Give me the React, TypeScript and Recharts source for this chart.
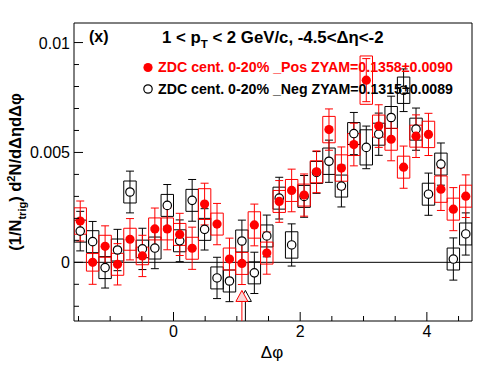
import React from "react";
import {
  ComposedChart,
  XAxis,
  YAxis,
  Scatter,
  ErrorBar,
  Line,
  ReferenceLine,
  ReferenceArea,
} from "recharts";

// bin centres in delta phi (32 bins from -pi/2 to 3pi/2)
const dphi = [
  -1.4726, -1.2763, -1.0799, -0.8836, -0.6872, -0.4909, -0.2945, -0.0982,
  0.0982, 0.2945, 0.4909, 0.6872, 0.8836, 1.0799, 1.2763, 1.4726,
  1.669, 1.8653, 2.0617, 2.258, 2.4544, 2.6507, 2.8471, 3.0434,
  3.2398, 3.4361, 3.6325, 3.8288, 4.0252, 4.2215, 4.4179, 4.6142,
];

// ZDC cent. 0-20% _Pos
const posVal = [
  0.00188, 0.0, 0.00073, -0.00009, 0.00105, 0.00029, 0.00152, 0.00152,
  0.00127, 0.00064, 0.00265, 0.00174, 0.00015, -0.00005, 0.0017, 0.00042,
  0.00277, 0.00327, 0.00306, 0.00412, 0.00604, 0.00429, 0.00536, 0.00829,
  0.0062, 0.0056, 0.00433, 0.00574, 0.00582, 0.00333, 0.00242, 0.00301,
];
const posStat = [
  0.00091, 0.001, 0.00093, 0.00094, 0.00094, 0.00094, 0.00095, 0.00095,
  0.00096, 0.00096, 0.00095, 0.00094, 0.00095, 0.00096, 0.00095, 0.00096,
  0.00095, 0.00097, 0.00096, 0.00095, 0.00094, 0.00096, 0.00097, 0.00098,
  0.00097, 0.00098, 0.00096, 0.00097, 0.00096, 0.00097, 0.00098, 0.00097,
];
const posSys = [
  0.0006, 0.0004, 0.0005, 0.0005, 0.0005, 0.0004, 0.0005, 0.0005,
  0.0005, 0.0005, 0.0007, 0.0005, 0.0005, 0.0005, 0.0006, 0.0005,
  0.0005, 0.0005, 0.0005, 0.0005, 0.0006, 0.0006, 0.0005, 0.0011,
  0.0005, 0.0005, 0.0005, 0.0005, 0.0006, 0.0006, 0.0005, 0.0005,
];

// ZDC cent. 0-20% _Neg
const negVal = [
  0.00142, 0.00094, -0.00024, 0.00056, 0.0032, 0.00061, 0.00065, 0.00259,
  0.00098, 0.00282, 0.0015, -0.00071, -0.00085, 0.00097, -0.00048, 0.0012,
  0.00292, 0.00079, 0.003, 0.00409, 0.0046, 0.00347, 0.00586, 0.00523,
  0.00583, 0.00659, 0.00783, 0.00606, 0.0031, 0.00447, 0.00015, 0.00129,
];
const negStat = [
  0.0009, 0.00092, 0.00093, 0.00094, 0.00095, 0.00094, 0.00094, 0.00095,
  0.00095, 0.00095, 0.00094, 0.00094, 0.00094, 0.00095, 0.00094, 0.00095,
  0.00095, 0.00096, 0.00095, 0.00095, 0.00096, 0.00095, 0.00096, 0.00097,
  0.00096, 0.00097, 0.00097, 0.00096, 0.00096, 0.00096, 0.00096, 0.00096,
];
const negSys = [
  0.0005, 0.0005, 0.0005, 0.0005, 0.0005, 0.0004, 0.0005, 0.0005,
  0.0005, 0.0005, 0.0005, 0.0005, 0.0005, 0.0005, 0.0005, 0.0005,
  0.0005, 0.0006, 0.0005, 0.0005, 0.0006, 0.0005, 0.0005, 0.0008,
  0.0005, 0.0005, 0.0006, 0.0005, 0.0005, 0.0005, 0.0005, 0.0005,
];

const binHalf = 0.0982;

const xDomain = [-1.5708, 4.7124];
const yDomain = [-0.00267, 0.01089];
const xTicks = [-1.5, -1, -0.5, 0, 0.5, 1, 1.5, 2, 2.5, 3, 3.5, 4, 4.5];
const xMajor = [0, 2, 4];
const yTicks = [
  -0.002, -0.001, 0, 0.001, 0.002, 0.003, 0.004, 0.005, 0.006, 0.007, 0.008,
  0.009, 0.01,
];
const yMajor = [0, 0.005, 0.01];
const yMajorText = ["0", "0.005", "0.01"];

// ZYAM minimum markers (red = Pos, black = Neg)
const zyamPhi = [1.0799, 1.135];
const arrowTip = -0.00128;
const arrowBase = -0.00178;

const FONT = "'Liberation Sans', Arial, Helvetica, sans-serif";

const posPoints = dphi.map((x, i) => ({ x, y: posVal[i], err: posStat[i] }));
const negPoints = dphi.map((x, i) => ({ x, y: negVal[i], err: negStat[i] }));

function boxOutline(vals: number[], sys: number[]) {
  const out: { x: number; y: number | null }[] = [];
  dphi.forEach((c, i) => {
    const lo = vals[i] - sys[i];
    const hi = vals[i] + sys[i];
    out.push({ x: c - binHalf, y: lo });
    out.push({ x: c - binHalf, y: hi });
    out.push({ x: c + binHalf, y: hi });
    out.push({ x: c + binHalf, y: lo });
    out.push({ x: c - binHalf, y: lo });
    out.push({ x: c, y: null });
  });
  return out;
}

const posBoxes = boxOutline(posVal, posSys);
const negBoxes = boxOutline(negVal, negSys);

const near = (a: number, b: number) => Math.abs(a - b) < 1e-9;

// ticks point inward from the frame, ROOT style
function XTick(props: any) {
  const { x, y, payload } = props;
  const major = xMajor.some((v) => near(v, payload.value));
  return (
    <g>
      <line x1={x} x2={x} y1={y} y2={y - (major ? 9 : 5)} stroke="#000" />
      {major && (
        <text x={x} y={y + 16} textAnchor="middle" fontSize={16} fontFamily={FONT} fill="#000">
          {payload.value}
        </text>
      )}
    </g>
  );
}

function YTick(props: any) {
  const { x, y, payload } = props;
  const idx = yMajor.findIndex((v) => near(v, payload.value));
  const major = idx >= 0;
  return (
    <g>
      <line x1={x} x2={x + (major ? 9 : 5)} y1={y} y2={y} stroke="#000" />
      {major && (
        <text x={x - 4} y={y + 6} textAnchor="end" fontSize={16} fontFamily={FONT} fill="#000">
          {yMajorText[idx]}
        </text>
      )}
    </g>
  );
}

const RedDot = (p: any) => <circle cx={p.cx} cy={p.cy} r={4.6} fill="#ff0000" />;
const OpenCircle = (p: any) => (
  <circle cx={p.cx} cy={p.cy} r={4.2} fill="#fff" stroke="#000" strokeWidth={1.2} />
);
const Triangle = (color: string, fill: string) => (p: any) => (
  <path
    d={`M${p.cx},${p.cy} L${p.cx - 6},${p.cy + 11} L${p.cx + 6},${p.cy + 11} Z`}
    fill={fill}
    stroke={color}
    strokeWidth={1}
  />
);

export default function App() {
  return (
    <div style={{ position: "absolute", left: 0, top: 0, width: 496, height: 374, background: "#fff" }}>
      <ComposedChart
        width={496}
        height={374}
        margin={{ top: 23, right: 24, bottom: 23, left: 4 }}
      >
        <XAxis
          type="number"
          dataKey="x"
          domain={xDomain}
          allowDataOverflow
          ticks={xTicks}
          interval={0}
          height={30}
          tickSize={0}
          tickMargin={0}
          tickLine={false}
          axisLine={false}
          tick={XTick}
        />
        <YAxis
          type="number"
          dataKey="y"
          domain={yDomain}
          allowDataOverflow
          ticks={yTicks}
          interval={0}
          width={70}
          tickSize={0}
          tickMargin={0}
          tickLine={false}
          axisLine={false}
          tick={YTick}
        />
        <ReferenceLine y={0} stroke="#000" strokeWidth={1} />
        <Line
          data={negBoxes}
          dataKey="y"
          type="linear"
          stroke="#000"
          strokeWidth={1}
          dot={false}
          activeDot={false}
          isAnimationActive={false}
        />
        <Line
          data={posBoxes}
          dataKey="y"
          type="linear"
          stroke="#ff0000"
          strokeWidth={1}
          dot={false}
          activeDot={false}
          isAnimationActive={false}
        />
        <ReferenceLine
          segment={[
            { x: zyamPhi[1], y: arrowBase },
            { x: zyamPhi[1], y: yDomain[0] },
          ]}
          stroke="#000"
        />
        <Scatter
          data={[{ x: zyamPhi[1], y: arrowTip }]}
          shape={Triangle("#000", "#fff")}
          isAnimationActive={false}
        />
        <ReferenceLine
          segment={[
            { x: zyamPhi[0], y: arrowBase },
            { x: zyamPhi[0], y: yDomain[0] },
          ]}
          stroke="#ff0000"
        />
        <Scatter
          data={[{ x: zyamPhi[0], y: arrowTip }]}
          shape={Triangle("#ff0000", "#f6d6d6")}
          isAnimationActive={false}
        />
        <Scatter data={negPoints} shape={OpenCircle} isAnimationActive={false}>
          <ErrorBar dataKey="err" direction="y" width={4} stroke="#000" strokeWidth={1} />
        </Scatter>
        <Scatter data={posPoints} shape={RedDot} isAnimationActive={false}>
          <ErrorBar dataKey="err" direction="y" width={4} stroke="#ff0000" strokeWidth={1} />
        </Scatter>
        <ReferenceArea
          x1={xDomain[0]}
          x2={xDomain[1]}
          y1={yDomain[0]}
          y2={yDomain[1]}
          fill="none"
          stroke="#000"
          strokeWidth={1}
        />
      </ComposedChart>

      <svg
        width={496}
        height={374}
        style={{ position: "absolute", left: 0, top: 0, pointerEvents: "none" }}
        fontFamily={FONT}
      >
        <text x={89} y={42} fontSize={16} fontWeight="bold">(x)</text>
        <text x={162} y={43} fontSize={16.8} fontWeight="bold">
          1 &lt; p
          <tspan fontSize={11.5} dy={5}>T</tspan>
          <tspan dy={-5}> &lt; 2 GeV/c, -4.5&lt;Δη&lt;-2</tspan>
        </text>
        <circle cx={148} cy={67.5} r={4.6} fill="#ff0000" />
        <text x={158} y={72} fontSize={14} fontWeight="bold" fill="#ff0000" textLength={295} lengthAdjust="spacingAndGlyphs">
          ZDC cent. 0-20% _Pos ZYAM=0.1358±0.0090
        </text>
        <circle cx={148} cy={89} r={4.2} fill="none" stroke="#000" strokeWidth={1.2} />
        <text x={158} y={93.5} fontSize={14} fontWeight="bold" fill="#000" textLength={295} lengthAdjust="spacingAndGlyphs">
          ZDC cent. 0-20% _Neg ZYAM=0.1315±0.0089
        </text>
        <text
          transform="rotate(-90)"
          x={-172}
          y={21}
          textAnchor="middle"
          fontSize={16.5}
          fontWeight="bold"
        >
          (1/N
          <tspan fontSize={11} dy={5}>trig</tspan>
          <tspan dy={-5}>) d</tspan>
          <tspan fontSize={11} dy={-6}>2</tspan>
          <tspan dy={6}>N/dΔηdΔφ</tspan>
        </text>
        <text x={272} y={358} textAnchor="middle" fontSize={17}>Δφ</text>
      </svg>
    </div>
  );
}
